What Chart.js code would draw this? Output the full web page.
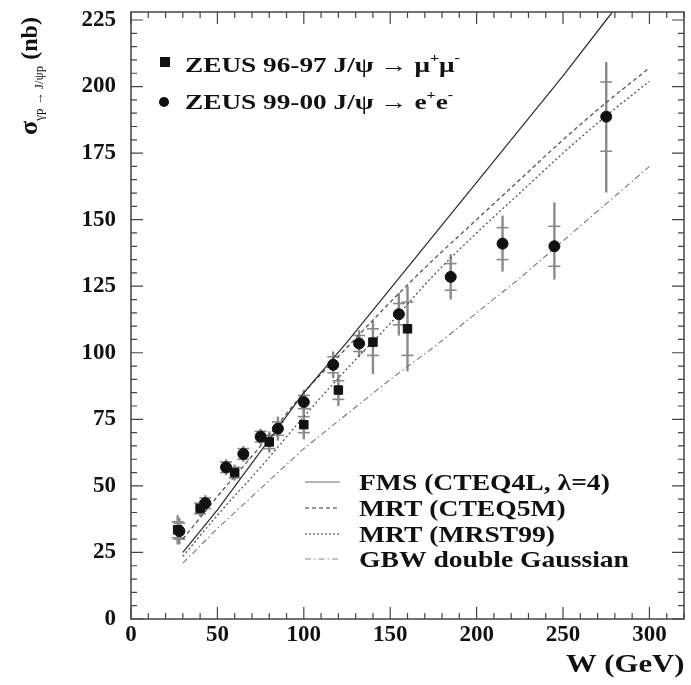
<!DOCTYPE html>
<html><head><meta charset="utf-8">
<script src="https://cdn.jsdelivr.net/npm/chart.js@4.4.0/dist/chart.umd.min.js"></script>
<style>html,body{margin:0;padding:0;background:#fff;}#wrap{width:691px;height:685px;}</style>
</head><body><div id="wrap"><canvas id="c" width="691" height="685"></canvas></div>
<script>
// ---- data ----
const W_mu = [27, 40, 60, 80, 100, 120, 140, 160];
const sig_mu = [33.5, 41.5, 55, 66.5, 73, 86, 104, 109];
const stat_mu = [3, 2, 2, 2.5, 3, 3.5, 5, 10];
const totUp_mu = [5.5, 3, 3, 4, 5.5, 6, 8, 16];
const totDn_mu = [5.5, 3, 3, 4, 5.5, 6, 12, 16];

const W_e = [28, 43, 55, 65, 75, 85, 100, 117, 132, 155, 185, 215, 245, 275];
const sig_e = [33, 43.5, 57, 62, 68.5, 71.5, 81.5, 95.5, 103.5, 114.5, 128.5, 141, 140, 188.7];
const stat_e = [3, 2, 2, 2, 2, 2.5, 2.5, 3, 3, 4, 5, 6, 7.5, 13];
const totUp_e = [5, 3, 3, 3, 3, 4.5, 4.5, 5, 5, 8, 8.5, 10.5, 16.5, 20.5];
const totDn_e = [5, 3, 3, 3, 3, 4.5, 4.5, 5, 5, 8, 8.5, 10.5, 12.5, 28.5];

const W_theory = [30, 50, 75, 100, 125, 150, 175, 200, 225, 250, 275, 300];
const fms      = [25, 41, 63, 85, 104, 124, 144, 164, 184, 204, 225, 246];
const mrtCteq  = [30, 46, 65, 85, 102, 119, 135, 150, 165, 180, 194, 207];
const mrtMrst  = [23.5, 39, 57, 76, 94, 111, 129, 145, 160, 175, 189, 202];
const gbw      = [21, 34, 49, 64, 77, 90, 102, 115, 128, 142, 156, 170];

const xTicks = [0, 50, 100, 150, 200, 250, 300];
const yTicks = [0, 25, 50, 75, 100, 125, 150, 175, 200, 225];

const dataLegend = ['ZEUS 96-97 J/\u03c8 \u2192 \u03bc', 'ZEUS 99-00 J/\u03c8 \u2192 e'];
const theoryLegend = ['FMS (CTEQ4L, \u03bb=4)', 'MRT (CTEQ5M)', 'MRT (MRST99)', 'GBW double Gaussian'];

const pts = (xs, ys) => xs.map((x, i) => ({x: x, y: ys[i]}));
const SERIF = '"Liberation Serif", "Times New Roman", serif';

const datasets = [
  {label: 'ZEUS 96-97', data: pts(W_mu, sig_mu), pointStyle: 'rect', pointRadius: 6,
   backgroundColor: '#111', borderColor: '#111', showLine: false,
   errStat: stat_mu, errUp: totUp_mu, errDn: totDn_mu},
  {label: 'ZEUS 99-00', data: pts(W_e, sig_e), pointStyle: 'circle', pointRadius: 5.5,
   backgroundColor: '#111', borderColor: '#111', showLine: false,
   errStat: stat_e, errUp: totUp_e, errDn: totDn_e},
  {label: theoryLegend[0], data: pts(W_theory, fms), showLine: true, pointRadius: 0,
   borderColor: '#333', borderWidth: 1.3, borderDash: []},
  {label: theoryLegend[1], data: pts(W_theory, mrtCteq), showLine: true, pointRadius: 0,
   borderColor: '#555', borderWidth: 1.3, borderDash: [4, 3], cubicInterpolationMode: 'monotone'},
  {label: theoryLegend[2], data: pts(W_theory, mrtMrst), showLine: true, pointRadius: 0,
   borderColor: '#555', borderWidth: 1.3, borderDash: [2, 2.5], cubicInterpolationMode: 'monotone'},
  {label: theoryLegend[3], data: pts(W_theory, gbw), showLine: true, pointRadius: 0,
   borderColor: '#777', borderWidth: 1.1, borderDash: [6, 3, 1.5, 3]}
];

const errorBars = {
  id: 'errorBars',
  beforeDatasetsDraw(chart) {
    const ctx = chart.ctx, xs = chart.scales.x, ys = chart.scales.y;
    ctx.save();
    chart.data.datasets.forEach(ds => {
      if (!ds.errStat) return;
      ds.data.forEach((p, i) => {
        const px = xs.getPixelForValue(p.x);
        ctx.strokeStyle = '#8a8a8a';
        ctx.lineWidth = 2.4;
        ctx.beginPath();
        ctx.moveTo(px, ys.getPixelForValue(p.y + ds.errUp[i]));
        ctx.lineTo(px, ys.getPixelForValue(p.y - ds.errDn[i]));
        ctx.stroke();
        ctx.lineWidth = 1.6;
        [p.y + ds.errStat[i], p.y - ds.errStat[i]].forEach(v => {
          const py = ys.getPixelForValue(v);
          ctx.beginPath(); ctx.moveTo(px - 6, py); ctx.lineTo(px + 6, py); ctx.stroke();
        });
      });
    });
    ctx.restore();
  }
};

function runs(ctx, x, y, list, sx) {
  ctx.save();
  ctx.translate(x, y);
  ctx.scale(sx, 1);
  let cx = 0;
  list.forEach(r => {
    ctx.font = r.f;
    ctx.fillText(r.t, cx, r.dy || 0);
    cx += ctx.measureText(r.t).width;
  });
  ctx.restore();
}

const decor = {
  id: 'decor',
  afterDraw(chart) {
    const ctx = chart.ctx, a = chart.chartArea, xs = chart.scales.x, ys = chart.scales.y;
    ctx.save();
    // frame
    ctx.strokeStyle = '#444'; ctx.lineWidth = 1.5;
    ctx.strokeRect(a.left, a.top, a.right - a.left, a.bottom - a.top);
    // ticks
    ctx.lineWidth = 1.2;
    for (let v = 0; v <= 320; v += 10) {
      const px = xs.getPixelForValue(v), L = (v % 50 === 0) ? 12 : 6;
      ctx.beginPath(); ctx.moveTo(px, a.bottom); ctx.lineTo(px, a.bottom - L);
      ctx.moveTo(px, a.top); ctx.lineTo(px, a.top + L); ctx.stroke();
    }
    for (let v = 0; v <= 228; v += 5) {
      const py = ys.getPixelForValue(v), L = (v % 25 === 0) ? 12 : 6;
      ctx.beginPath(); ctx.moveTo(a.left, py); ctx.lineTo(a.left + L, py);
      ctx.moveTo(a.right, py); ctx.lineTo(a.right - L, py); ctx.stroke();
    }
    ctx.fillStyle = '#111';
    ctx.textBaseline = 'alphabetic';
    ctx.textAlign = 'left';
    const B22 = 'bold 22px ' + SERIF, B13 = 'bold 13px ' + SERIF;
    // data legend
    ctx.fillRect(160, 57, 10, 10);
    ctx.beginPath(); ctx.arc(164, 102, 5, 0, Math.PI * 2); ctx.fill();
    runs(ctx, 185, 72, [{t: dataLegend[0], f: B22}, {t: '+', f: B13, dy: -10}, {t: '\u03bc', f: B22}, {t: '-', f: B13, dy: -10}], 1.24);
    runs(ctx, 185, 109, [{t: dataLegend[1], f: B22}, {t: '+', f: B13, dy: -10}, {t: 'e', f: B22}, {t: '-', f: B13, dy: -10}], 1.24);
    // theory legend
    const ys0 = [482, 508, 534, 559];
    const styles = [{c: '#b5b5b5', d: [], w: 2}, {c: '#777', d: [4, 3], w: 1.5}, {c: '#777', d: [2, 2], w: 1.5}, {c: '#888', d: [6, 3, 1.5, 3], w: 1.2}];
    styles.forEach((s, i) => {
      ctx.strokeStyle = s.c; ctx.lineWidth = s.w; ctx.setLineDash(s.d);
      ctx.beginPath(); ctx.moveTo(305, ys0[i]); ctx.lineTo(340, ys0[i]); ctx.stroke();
      ctx.setLineDash([]);
      runs(ctx, 359, ys0[i] + 8, [{t: theoryLegend[i], f: 'bold 24px ' + SERIF}], 1.15);
    });
    // x title
    runs(ctx, 566, 672, [{t: 'W (GeV)', f: 'bold 26px ' + SERIF}], 1.18);
    // y title
    ctx.save();
    ctx.translate(37, 135);
    ctx.rotate(-Math.PI / 2);
    runs(ctx, 0, 0, [{t: '\u03c3', f: 'bold 26px ' + SERIF}, {t: '\u03b3p \u2192 J/\u03c8p', f: '13px ' + SERIF, dy: 6}, {t: ' (nb)', f: 'bold 24px ' + SERIF}], 1.0);
    ctx.restore();
    ctx.restore();
  }
};

const tickFont = {family: SERIF, weight: 'bold', size: 23};
new Chart(document.getElementById('c'), {
  type: 'scatter',
  data: {datasets: datasets},
  options: {
    responsive: false, animation: false, devicePixelRatio: 1,
    layout: {padding: {left: 0, right: 3, top: 12, bottom: 0}},
    plugins: {legend: {display: false}, tooltip: {enabled: false}},
    scales: {
      x: {type: 'linear', min: 0, max: 320,
          afterFit: s => { s.height = 66; s.paddingLeft = 0; s.paddingRight = 0; },
          afterBuildTicks: s => { s.ticks = xTicks.map(v => ({value: v})); },
          grid: {display: false, drawTicks: false}, border: {display: false},
          ticks: {padding: 2, color: '#111', font: tickFont, maxRotation: 0}},
      y: {type: 'linear', min: 0, max: 228,
          afterFit: s => { s.width = 131; s.paddingTop = 0; s.paddingBottom = 0; },
          afterBuildTicks: s => { s.ticks = yTicks.map(v => ({value: v})); },
          grid: {display: false, drawTicks: false}, border: {display: false},
          ticks: {padding: 15, color: '#111', font: tickFont}}
    }
  },
  plugins: [errorBars, decor]
});
</script></body></html>
